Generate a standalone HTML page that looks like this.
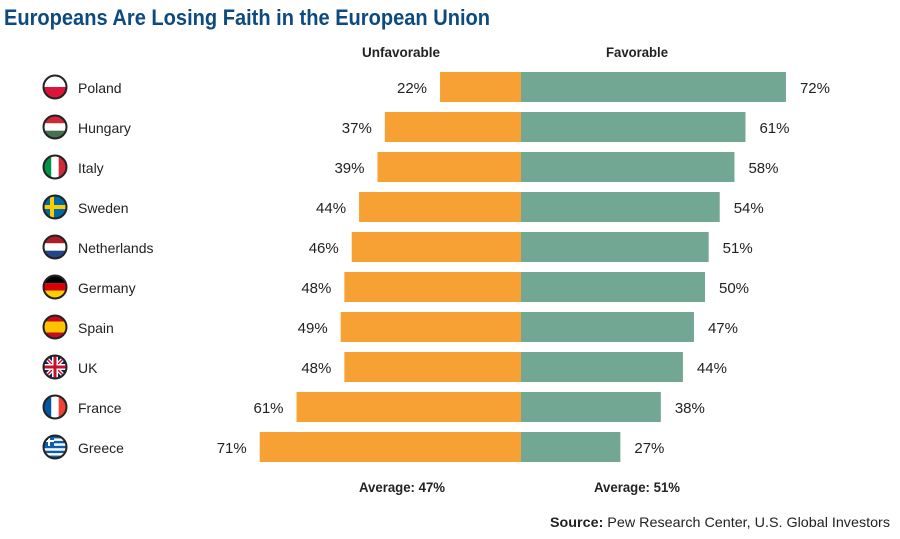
<!DOCTYPE html>
<html><head><meta charset="utf-8"><style>
body{margin:0;background:#fff;}
svg{display:block;font-family:"Liberation Sans",sans-serif;}
</style></head><body>
<svg id="chart" width="900" height="539" viewBox="0 0 900 539">
<text x="4" y="25" font-size="22" font-weight="bold" fill="#0d4a80" textLength="486" lengthAdjust="spacingAndGlyphs">Europeans Are Losing Faith in the European Union</text>
<text x="401" y="57" font-size="14" font-weight="bold" fill="#222" text-anchor="middle" textLength="78" lengthAdjust="spacingAndGlyphs">Unfavorable</text>
<text x="637" y="57" font-size="14" font-weight="bold" fill="#222" text-anchor="middle" textLength="62" lengthAdjust="spacingAndGlyphs">Favorable</text>
<g id="rows"></g>
<text x="402" y="492" font-size="14" font-weight="bold" fill="#222" text-anchor="middle" textLength="86" lengthAdjust="spacingAndGlyphs">Average: 47%</text>
<text x="637" y="492" font-size="14" font-weight="bold" fill="#222" text-anchor="middle" textLength="86" lengthAdjust="spacingAndGlyphs">Average: 51%</text>
<text x="890" y="527" font-size="14" fill="#222" text-anchor="end" textLength="340" lengthAdjust="spacingAndGlyphs"><tspan font-weight="bold">Source:</tspan> Pew Research Center, U.S. Global Investors</text>
</svg>
<script>
const countries=["Poland","Hungary","Italy","Sweden","Netherlands","Germany","Spain","UK","France","Greece"];
const unfavorable=[22,37,39,44,46,48,49,48,61,71];
const favorable=[72,61,58,54,51,50,47,44,38,27];
const NS="http://www.w3.org/2000/svg";
const cx0=521,pxPer=3.68,top0=87,step=40,barH=30;
const xUnf=v=>cx0-v*pxPer, xFav=v=>cx0+v*pxPer, yRow=i=>top0+i*step;
const g=document.getElementById('rows');
function el(t,a,p){const e=document.createElementNS(NS,t);for(const k in a)e.setAttribute(k,a[k]);(p||g).appendChild(e);return e;}
const flags={
Poland:[["#fff",0,0.5],["#dc143c",0.5,1]],
Hungary:[["#ce2939",0,1/3],["#fff",1/3,2/3],["#477050",2/3,1]],
Netherlands:[["#ae1c28",0,1/3],["#fff",1/3,2/3],["#21468b",2/3,1]],
Germany:[["#000",0,1/3],["#dd0000",1/3,2/3],["#ffce00",2/3,1]],
Spain:[["#c60b1e",0,0.25],["#ffc400",0.25,0.75],["#c60b1e",0.75,1]]
};
countries.forEach((c,i)=>{
  const y=yRow(i);
  const fg=el('g',{});
  
  
  const id='cl'+i;
  const cp=el('clipPath',{id:id},fg);el('circle',{cx:55,cy:y,r:11},cp);
  const inner=el('g',{'clip-path':'url(#'+id+')'},fg);
  const x0=44,w=22,y0=y-11;
  if(flags[c]){flags[c].forEach(s=>el('rect',{x:x0,y:y0+s[1]*w,width:w,height:(s[2]-s[1])*w,fill:s[0]},inner));}
  else if(c==="Italy"||c==="France"){const cols=c==="Italy"?["#009246","#fff","#ce2b37"]:["#0055a4","#fff","#ef4135"];cols.forEach((f,k)=>el('rect',{x:x0+k*w/3,y:y0,width:w/3,height:w,fill:f},inner));}
  else if(c==="Sweden"){el('rect',{x:x0,y:y0,width:w,height:w,fill:"#006aa7"},inner);el('rect',{x:x0,y:y-2,width:w,height:4,fill:"#fecc00"},inner);el('rect',{x:50,y:y0,width:4,height:w,fill:"#fecc00"},inner);}
  else if(c==="UK"){el('rect',{x:x0,y:y0,width:w,height:w,fill:"#012169"},inner);el('path',{d:`M${x0} ${y0}L${x0+w} ${y0+w}M${x0+w} ${y0}L${x0} ${y0+w}`,stroke:"#fff","stroke-width":4},inner);el('path',{d:`M${x0} ${y0}L${x0+w} ${y0+w}M${x0+w} ${y0}L${x0} ${y0+w}`,stroke:"#c8102e","stroke-width":1.5},inner);el('rect',{x:x0,y:y-3,width:w,height:6,fill:"#fff"},inner);el('rect',{x:52,y:y0,width:6,height:w,fill:"#fff"},inner);el('rect',{x:x0,y:y-1.5,width:w,height:3,fill:"#c8102e"},inner);el('rect',{x:53.5,y:y0,width:3,height:w,fill:"#c8102e"},inner);}
  else if(c==="Greece"){el('rect',{x:x0,y:y0,width:w,height:w,fill:"#fff"},inner);for(let k=0;k<9;k+=2)el('rect',{x:x0,y:y0+k*w/9,width:w,height:w/9,fill:"#0d5eaf"},inner);el('rect',{x:x0,y:y0,width:10,height:10,fill:"#0d5eaf"},inner);el('rect',{x:x0,y:y0+4,width:10,height:2,fill:"#fff"},inner);el('rect',{x:x0+4,y:y0,width:2,height:10,fill:"#fff"},inner);}
  el('circle',{cx:55,cy:y,r:11.5,fill:"none",stroke:"#222","stroke-width":2},fg);
  const lab=el('text',{x:78,y:y+6,'font-size':14,fill:"#222"});lab.textContent=c;
  
  
  const bu=el('rect',{x:xUnf(unfavorable[i]),y:y-barH/2,width:cx0-xUnf(unfavorable[i]),height:barH,fill:"#f7a033"});
  
  
  const bf=el('rect',{x:cx0,y:y-barH/2,width:xFav(favorable[i])-cx0,height:barH,fill:"#72a794"});
  
  
  const tu=el('text',{x:xUnf(unfavorable[i])-13,y:y+6,'font-size':15,fill:"#222",'text-anchor':'end'});tu.textContent=unfavorable[i]+'%';
  
  
  const tf=el('text',{x:xFav(favorable[i])+14,y:y+6,'font-size':15,fill:"#222"});tf.textContent=favorable[i]+'%';
  
  
});
</script>
</body></html>
